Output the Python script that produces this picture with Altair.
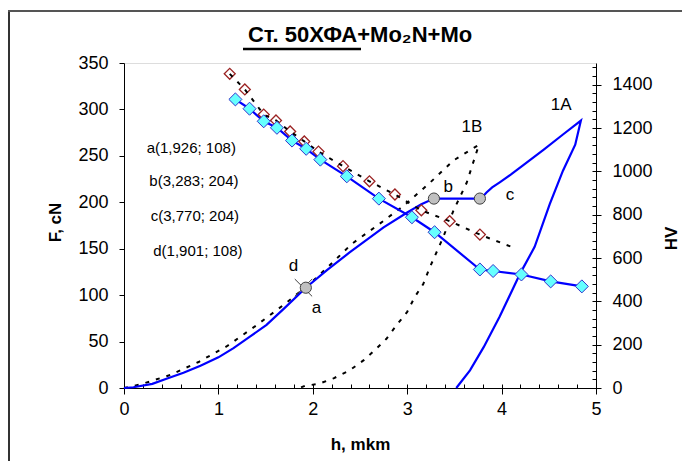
import altair as alt
import pandas as pd

# ---------------- data ----------------
# loading / unloading curve 1A (left axis, F, cN)
load_h = [0.0, 0.10, 0.30, 0.45, 0.63, 0.81, 1.00, 1.16, 1.33, 1.51, 1.70, 1.926, 2.15, 2.39,
          2.75, 3.00, 3.15, 3.283,
          3.770, 3.80, 3.84, 3.90, 3.98, 4.10, 4.23, 4.45, 4.65, 4.84,
          4.78, 4.65, 4.51, 4.35, 4.20, 3.98, 3.81, 3.665, 3.52]
load_F = [0, 0.8, 4.5, 10, 16.5, 24, 33, 43, 55, 68, 86, 108, 127, 146,
          173, 189, 198, 204,
          204, 206, 210.5, 216, 221.5, 230, 240, 257, 273, 288,
          262, 234, 198, 152, 124, 77, 44, 19, 0]

# curve 1B (dashed, left axis)
dash_h = [0.0, 0.19, 0.49, 0.79, 1.09, 1.41, 1.71, 2.00, 2.27, 2.41, 2.71, 2.96,
          3.24, 3.49, 3.76, 3.63, 3.49, 3.38, 3.24, 3.17, 3.08, 3.00, 2.89, 2.78,
          2.66, 2.54, 2.39, 2.22, 2.06, 1.92, 1.86]
dash_F = [0, 4.3, 14, 28, 45, 68, 91, 115, 141, 155, 177, 196,
          221, 245, 262, 221, 191, 162, 130, 112, 98, 82, 68, 53,
          41, 30, 19, 10.4, 4.3, 2.5, 0]

# HV series (right axis) - cyan diamonds
hv_h = [1.18, 1.33, 1.48, 1.62, 1.78, 1.93, 2.08, 2.36, 2.70, 3.05, 3.29,
        3.77, 3.91, 4.21, 4.52, 4.85]
hv_v = [1332, 1289, 1231, 1201, 1142, 1104, 1054, 977, 874, 788, 719,
        547, 540, 524, 492, 469]

# HV series (right axis) - hollow red diamonds
hv2_h = [1.12, 1.28, 1.48, 1.61, 1.76, 1.91, 2.06, 2.32, 2.60, 2.87, 3.15, 3.45, 3.77]
hv2_v = [1450, 1378, 1262, 1235, 1184, 1138, 1091, 1024, 954, 893, 820, 770, 708]

# dashed HV line (through the red diamonds)
hvd_h = hv2_h + [4.16]
hvd_v = hv2_v + [642]

# marked points a, b, c, d
pts_label = ["a", "b", "c"]
pts_h = [1.926, 3.283, 3.770]
pts_F = [108, 204, 204]
d_h = [1.901]
d_F = [108]

# letter labels
lab_text = ["1A", "1B", "a", "b", "c", "d"]
lab_h = [4.63, 3.686, 2.04, 3.435, 4.089, 1.796]
lab_F = [305.3, 281, 86.4, 216.7, 208, 131]

# coordinates text
ann_text = ["a(1,926; 108)", "b(3,283; 204)", "c(3,770; 204)", "d(1,901; 108)"]
ann_h = [0.240, 0.268, 0.283, 0.310]
ann_F = [253.2, 217.3, 179.7, 142.2]

x_ticks = [0, 1, 2, 3, 4, 5]
F_ticks = [0, 50, 100, 150, 200, 250, 300, 350]
HV_ticks = [0, 200, 400, 600, 800, 1000, 1200, 1400]

# ---------------- frames ----------------
load_df = pd.DataFrame({"h": load_h, "F": load_F, "i": range(len(load_h))})
dash_df = pd.DataFrame({"h": dash_h, "F": dash_F, "i": range(len(dash_h))})
hv_df = pd.DataFrame({"h": hv_h, "HV": hv_v, "i": range(len(hv_h))})
hv2_df = pd.DataFrame({"h": hv2_h, "HV": hv2_v})
hvd_df = pd.DataFrame({"h": hvd_h, "HV": hvd_v, "i": range(len(hvd_h))})
pts_df = pd.DataFrame({"h": pts_h, "F": pts_F, "t": pts_label})
d_df = pd.DataFrame({"h": d_h, "F": d_F})
lab_df = pd.DataFrame({"h": lab_h, "F": lab_F, "t": lab_text})
ann_df = pd.DataFrame({"h": ann_h, "F": ann_F, "t": ann_text})
one = pd.DataFrame({"k": [0]})

W, H = 472, 325
FONT = "Liberation Sans"

xscale = alt.Scale(domain=[0, 5], nice=False, zero=False)
Fscale = alt.Scale(domain=[0, 350], nice=False)
HVscale = alt.Scale(domain=[0, 1500], nice=False)

x_main = alt.X("h:Q", scale=xscale, axis=alt.Axis(
    values=x_ticks, format="d", title="h, mkm", grid=False,
    tickSize=6, labelPadding=6, labelFontSize=18, labelFont=FONT,
    labelColor="black", labelFlush=False, labelOverlap=False,
    domainColor="black", tickColor="black",
    titleFont=FONT, titleFontSize=17, titleFontWeight="bold", titleColor="black",
    titleX=W / 2, titleY=56, titleBaseline="middle", titleAlign="center"))
x_minor = alt.X("h:Q", scale=xscale, axis=alt.Axis(
    orient="top", offset=-H, values=[i / 5 for i in range(26)], labels=False,
    domain=False, tickSize=4, tickColor="black", grid=False, title=None))

y_F = alt.Y("F:Q", scale=Fscale, axis=alt.Axis(
    values=F_ticks, format="d", title="F, cN", grid=False, tickSize=5, labelPadding=11,
    labelFontSize=18, labelFont=FONT, labelColor="black", labelOverlap=False,
    domainColor="black", tickColor="black",
    titleFont=FONT, titleFontSize=17, titleFontWeight="bold", titleColor="black",
    titleAngle=270, titleX=-69, titleY=159, titleBaseline="middle", titleAlign="center"))
y_HV = alt.Y("HV:Q", scale=HVscale, axis=alt.Axis(
    orient="right", values=HV_ticks, format="d", title="HV", grid=False, tickSize=5,
    labelPadding=11, labelFontSize=18, labelFont=FONT, labelColor="black",
    labelOverlap=False, domainColor="black", tickColor="black",
    titleFont=FONT, titleFontSize=17, titleFontWeight="bold", titleColor="black",
    titleAngle=270, titleX=75, titleY=175, titleBaseline="middle", titleAlign="center"))
y_HV_minor = alt.Y("HV:Q", scale=HVscale, axis=alt.Axis(
    orient="left", offset=-W, values=list(range(0, 1501, 40)), labels=False,
    domain=False, tickSize=4, tickColor="black", grid=False, title=None))
y_HV_none = alt.Y("HV:Q", scale=HVscale, axis=None)

BLUE = "#0000FF"

# ---------------- left-axis (F) layers ----------------
dash_line = alt.Chart(dash_df).mark_line(color="black", strokeWidth=2, strokeDash=[4, 7]).encode(
    x=x_main, y=y_F, order="i:Q")
load_line = alt.Chart(load_df).mark_line(color=BLUE, strokeWidth=2.2).encode(
    x=x_main, y=y_F, order="i:Q")
d_mark = alt.Chart(d_df).mark_point(shape="M-1,-1L1,1M-1,1L1,-1", filled=False,
                                    stroke="#404040", strokeWidth=1, size=300, opacity=1).encode(
    x=x_main, y=y_F)
pts_mark = alt.Chart(pts_df).mark_point(shape="circle", filled=True, fill="#C0C0C0",
                                        stroke="#404040", strokeWidth=1, size=125, opacity=1).encode(
    x=x_main, y=y_F)
labels = alt.Chart(lab_df).mark_text(font=FONT, fontSize=17, color="black",
                                     align="center", baseline="middle").encode(
    x=x_main, y=y_F, text="t:N")
ann = alt.Chart(ann_df).mark_text(font=FONT, fontSize=15, color="black",
                                  align="left", baseline="alphabetic").encode(
    x=x_main, y=y_F, text="t:N")

# decorative outer frame and title underline
frame_left = alt.Chart(one).mark_rule(color="#333333", strokeWidth=2).encode(
    x=alt.value(-115), y=alt.value(-52), y2=alt.value(H + 120))
frame_top = alt.Chart(one).mark_rule(color="#555555", strokeWidth=2).encode(
    x=alt.value(-116), x2=alt.value(W + 120), y=alt.value(-52))
underline = alt.Chart(one).mark_rule(color="black", strokeWidth=2.5).encode(
    x=alt.value(119), x2=alt.value(237), y=alt.value(-14))

F_group = alt.layer(dash_line, load_line, d_mark, pts_mark, labels, ann,
                    frame_left, frame_top, underline)

# ---------------- right-axis (HV) layers ----------------
hv_line = alt.Chart(hv_df).mark_line(color=BLUE, strokeWidth=2.2).encode(
    x=x_minor, y=y_HV, order="i:Q")
hv2_mark = alt.Chart(hv2_df).mark_point(shape="diamond", filled=True, fill="white",
                                        stroke="#9B2222", strokeWidth=1.3, size=120, opacity=1).encode(
    x=x_minor, y=y_HV_minor)
hvd_line = alt.Chart(hvd_df).mark_line(color="black", strokeWidth=2, strokeDash=[4, 7]).encode(
    x=x_minor, y=y_HV_none, order="i:Q")
hv_mark = alt.Chart(hv_df).mark_point(shape="diamond", filled=True, fill="#66FFFF",
                                      stroke="#3333CC", strokeWidth=1, size=170, opacity=1).encode(
    x=x_minor, y=y_HV_none)

HV_group = alt.layer(hv_line, hv2_mark, hvd_line, hv_mark).resolve_axis(y="independent")

chart = alt.layer(F_group, HV_group).resolve_scale(y="independent").resolve_axis(
    x="independent", y="independent"
).properties(
    width=W, height=H,
    title=alt.TitleParams("Ст. 50ХФА+Mo₂N+Mo", font=FONT, fontSize=22, fontWeight="bold",
                          color="black", anchor="middle", frame="group", offset=4, dy=41),
    autosize=alt.AutoSizeParams(type="none"),
    padding={"left": 116, "top": 55, "right": 86, "bottom": 73},
).configure_view(stroke="#808080", strokeWidth=1).configure(background="white")

chart.save("out.html", embed_options={"renderer": "svg", "actions": False})
